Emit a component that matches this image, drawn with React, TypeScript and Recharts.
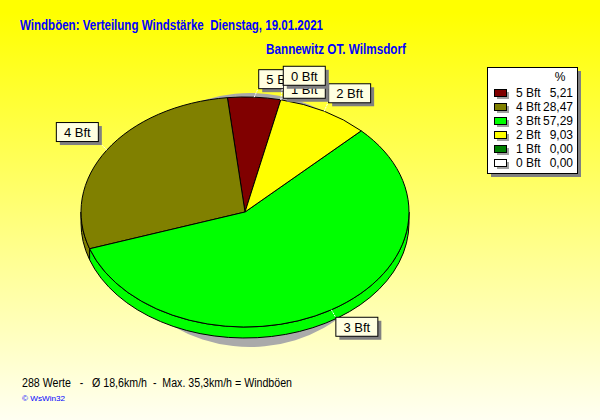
import React from "react";
import { PieChart, Pie, Legend } from "recharts";

// wind force classes, in legend order (the pie runs counter-clockwise in this order)
const names = ["5 Bft", "4 Bft", "3 Bft", "2 Bft", "1 Bft", "0 Bft"];
const shares = [5.21, 28.47, 57.29, 9.03, 0.0, 0.0];
const colors = ["#800000", "#808000", "#00ff00", "#ffff00", "#008000", "#ffffff"];

const TITLE = "Windböen: Verteilung Windstärke  Dienstag, 19.01.2021";
const SUBTITLE = "Bannewitz OT. Wilmsdorf";
const FOOTER = "288 Werte   -   Ø 18,6km/h  -  Max. 35,3km/h = Windböen";
const CREDIT = "© WsWin32";

const data = names.map((name, i) => ({ name, value: shares[i], fill: colors[i] }));

const FONT = "'Liberation Sans', Arial, sans-serif";
const FLAT = 115 / 164; // pie is drawn as a tilted disc
const DEPTH = 11;

function pt(cx: number, cy: number, rx: number, ry: number, a: number) {
  const r = (a * Math.PI) / 180;
  return [cx + rx * Math.cos(r), cy - ry * Math.sin(r)];
}

function makeShape(flat: number, depth: number, shadow: boolean) {
  return (props: any) => {
    const { cx, cy, outerRadius, startAngle, endAngle, fill } = props;
    if (Math.abs(endAngle - startAngle) < 0.01) return <g />;
    const rx = outerRadius;
    const ry = outerRadius * flat;
    const a0 = Math.min(startAngle, endAngle);
    const a1 = Math.max(startAngle, endAngle);
    const [x0, y0] = pt(cx, cy, rx, ry, a0);
    const [x1, y1] = pt(cx, cy, rx, ry, a1);
    const large = a1 - a0 > 180 ? 1 : 0;
    const top = `M${cx},${cy} L${x0},${y0} A${rx},${ry} 0 ${large} 0 ${x1},${y1} Z`;
    const color = shadow ? "#aaaaaa" : fill;
    const stroke = shadow ? "none" : "#000";

    // the visible rim only exists on the front (lower) half
    const sides: React.ReactNode[] = [];
    if (depth > 0) {
      for (let k = -1; k <= 1; k++) {
        const lo = Math.max(a0, 180 + 360 * k);
        const hi = Math.min(a1, 360 + 360 * k);
        if (hi - lo <= 0.01) continue;
        const [sx, sy] = pt(cx, cy, rx, ry, lo);
        const [ex, ey] = pt(cx, cy, rx, ry, hi);
        const l = hi - lo > 180 ? 1 : 0;
        sides.push(
          <path
            key={k}
            d={`M${sx},${sy} A${rx},${ry} 0 ${l} 0 ${ex},${ey} L${ex},${ey + depth} A${rx},${ry} 0 ${l} 1 ${sx},${sy + depth} Z`}
            fill={color}
            stroke={stroke}
          />
        );
      }
    }
    return (
      <g>
        {sides}
        <path d={top} fill={color} stroke={stroke} />
      </g>
    );
  };
}

const pieShape = makeShape(FLAT, DEPTH, false);
const shadowShape = makeShape(127 / 140, 0, true);

function renderLabel(props: any) {
  const { cx, cy, midAngle, outerRadius, index } = props;
  const name = names[index];
  const rx = outerRadius;
  const ry = outerRadius * FLAT;
  const [px, py] = pt(cx, cy, rx, ry, midAngle);
  const c = Math.cos((midAngle * Math.PI) / 180);
  const s = Math.sin((midAngle * Math.PI) / 180);
  const w = 42;
  const h = 19;
  let left: number;
  let top: number;
  let lx: number;
  let ly: number;
  if (shares[index] === 0) {
    // empty classes are stacked at the same spot
    const rank = shares.slice(0, index).filter((v) => v === 0).length;
    left = px + 2;
    top = py - 21 - 13 * rank;
    lx = left;
    ly = top + h;
  } else {
    left = c >= 0 ? px + 4 : px - 9 - w;
    top = s >= 0 ? py - 9 - h : py + 7;
    lx = c >= 0 ? left : left + w;
    ly = s >= 0 ? top + h : top;
  }
  return (
    <g>
      <line x1={px} y1={py} x2={lx} y2={ly} stroke="#fff" strokeDasharray="2 1" />
      <rect x={left + 4} y={top + 4} width={w} height={h} fill="#808080" />
      <rect x={left + 0.5} y={top + 0.5} width={w} height={h} fill="#ffffe1" stroke="#000" />
      <text x={left + w / 2 + 0.5} y={top + 15} textAnchor="middle" fontSize={13} fontFamily={FONT} fill="#000">
        {name}
      </text>
    </g>
  );
}

function renderLegend() {
  return (
    <svg width={96} height={112} style={{ display: "block" }}>
      <rect x={4} y={4} width={90} height={106} fill="#808080" />
      <rect x={0.5} y={0.5} width={90} height={106} fill="#fff" stroke="#000" />
      <text x={73} y={14} textAnchor="middle" fontSize={12} fontFamily={FONT}>
        %
      </text>
      {names.map((n, i) => {
        const y = 26 + i * 14;
        return (
          <g key={n}>
            <rect x={10} y={y - 1} width={12} height={7} fill="#a0a0a0" />
            <rect x={7.5} y={y - 3.5} width={12} height={7} fill={colors[i]} stroke="#000" />
            <text x={29} y={y + 4} fontSize={12} fontFamily={FONT}>
              {n}
            </text>
            <text x={86} y={y + 4} fontSize={12} fontFamily={FONT} textAnchor="end">
              {shares[i].toFixed(2).replace(".", ",")}
            </text>
          </g>
        );
      })}
    </svg>
  );
}

export default function App() {
  return (
    <div style={{ position: "relative", width: 600, height: 420, overflow: "hidden" }}>
      <style>{"body{margin:0}"}</style>
      <svg width={600} height={420} style={{ position: "absolute", left: 0, top: 0 }}>
        <defs>
          <linearGradient id="bg" x1="0" y1="0" x2="0" y2="1">
            <stop offset="0.03" stopColor="#ffff00" />
            <stop offset="1" stopColor="#fffff2" />
          </linearGradient>
        </defs>
        <rect width={600} height={420} fill="url(#bg)" />
        <text x={20} y={30} fontSize={14} fontWeight="bold" fontFamily={FONT} fill="#0000ff"
          textLength={303} lengthAdjust="spacingAndGlyphs" style={{ whiteSpace: "pre" }}>
          {TITLE}
        </text>
        <text x={266} y={54} fontSize={14} fontWeight="bold" fontFamily={FONT} fill="#0000ff"
          textLength={140} lengthAdjust="spacingAndGlyphs">
          {SUBTITLE}
        </text>
        <text x={22} y={387} fontSize={12} fontFamily={FONT} fill="#000"
          textLength={270} lengthAdjust="spacingAndGlyphs" style={{ whiteSpace: "pre" }}>
          {FOOTER}
        </text>
        <text x={22} y={401} fontSize={8} fontFamily={FONT} fill="#0000ff"
          textLength={43} lengthAdjust="spacingAndGlyphs">
          {CREDIT}
        </text>
      </svg>
      <div style={{ position: "absolute", left: 0, top: 0 }}>
        <PieChart width={600} height={420} margin={{ top: 0, right: 0, bottom: 0, left: 0 }}>
          <Pie
            data={data}
            dataKey="value"
            nameKey="name"
            cx={250}
            cy={220}
            outerRadius={140}
            startAngle={77.4}
            endAngle={437.4}
            shape={shadowShape}
            legendType="none"
            label={false}
            labelLine={false}
            isAnimationActive={false}
          />
          <Pie
            data={data}
            dataKey="value"
            nameKey="name"
            cx={245}
            cy={212}
            outerRadius={164}
            startAngle={77.4}
            endAngle={437.4}
            stroke="#000"
            shape={pieShape}
            label={renderLabel}
            labelLine={false}
            isAnimationActive={false}
          />
          <Legend
            content={renderLegend}
            wrapperStyle={{ position: "absolute", left: 487, top: 67, width: 96, height: 112 }}
          />
        </PieChart>
      </div>
    </div>
  );
}
